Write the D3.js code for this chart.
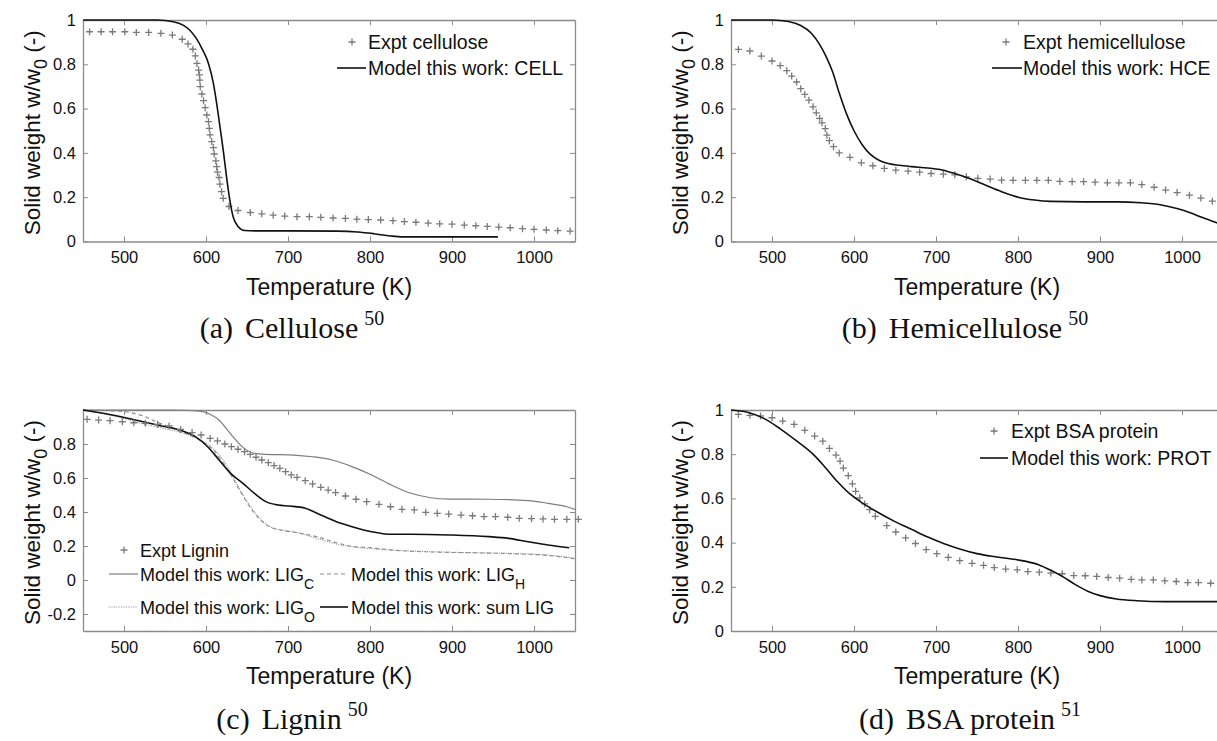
<!DOCTYPE html>
<html>
<head>
<meta charset="utf-8">
<script src="https://cdn.jsdelivr.net/npm/d3@7"></script>
<style>
  body { margin: 0; background: #fff; }
  svg { display: block; }
</style>
</head>
<body>
<svg id="fig"></svg>
<script>
// ---- values ----
const xTicks = [500, 600, 700, 800, 900, 1000];
const yTicksFull = [0, 0.2, 0.4, 0.6, 0.8, 1];
const yTicksLig = [-0.2, 0, 0.2, 0.4, 0.6, 0.8];

// (a) cellulose
const cellExptT = [458, 472, 486, 501, 515, 530, 545, 559, 571, 578, 584, 587, 589, 591, 592, 592.5, 593, 595, 597, 599, 601, 603, 604, 605, 607, 609, 610, 612, 613, 614, 616, 617, 619, 621, 628, 639, 654, 668, 682, 696, 711, 726, 740, 755, 770, 784, 798, 813, 828, 842, 856, 871, 885, 900, 915, 929, 943, 957, 971, 986, 1000, 1015, 1029, 1044];
const cellExptW = [0.947, 0.947, 0.947, 0.947, 0.944, 0.944, 0.94, 0.932, 0.913, 0.892, 0.868, 0.838, 0.804, 0.774, 0.752, 0.729, 0.699, 0.666, 0.636, 0.604, 0.571, 0.541, 0.511, 0.481, 0.451, 0.424, 0.395, 0.364, 0.338, 0.313, 0.289, 0.259, 0.225, 0.195, 0.158, 0.14, 0.131, 0.125, 0.119, 0.115, 0.112, 0.112, 0.109, 0.106, 0.104, 0.101, 0.099, 0.097, 0.094, 0.09, 0.087, 0.083, 0.08, 0.078, 0.074, 0.071, 0.068, 0.065, 0.062, 0.058, 0.055, 0.052, 0.049, 0.047];
const cellModelT = [450, 540, 560, 572, 580, 588, 596, 603, 609, 613, 617, 621, 625, 629, 633, 639, 647, 660, 700, 760, 785, 805, 825, 840, 956];
const cellModelW = [1, 1, 0.992, 0.977, 0.955, 0.918, 0.864, 0.804, 0.714, 0.624, 0.519, 0.413, 0.293, 0.188, 0.113, 0.068, 0.05, 0.048, 0.048, 0.047, 0.043, 0.035, 0.025, 0.021, 0.021];

// (b) hemicellulose
const hceExptT = [459, 473, 487, 500, 510, 518, 524, 530, 535, 540, 545, 550, 554, 558, 561, 565, 567, 570, 575, 582, 595, 609, 623, 637, 651, 666, 680, 694, 709, 723, 737, 751, 766, 780, 794, 809, 823, 837, 851, 866, 880, 894, 909, 923, 937, 951, 966, 980, 994, 1009, 1023, 1037];
const hceExptW = [0.867, 0.86, 0.837, 0.815, 0.794, 0.771, 0.747, 0.72, 0.69, 0.664, 0.638, 0.608, 0.581, 0.556, 0.536, 0.51, 0.48, 0.455, 0.428, 0.4, 0.38, 0.355, 0.342, 0.33, 0.322, 0.318, 0.313, 0.307, 0.304, 0.301, 0.292, 0.285, 0.282, 0.277, 0.276, 0.276, 0.276, 0.276, 0.271, 0.27, 0.27, 0.268, 0.265, 0.265, 0.265, 0.257, 0.245, 0.232, 0.221, 0.209, 0.196, 0.182];
const hceModelT = [450, 500, 520, 535, 548, 558, 566, 574, 582, 591, 600, 610, 620, 631, 643, 655, 670, 690, 705, 720, 740, 760, 780, 800, 820, 840, 880, 920, 950, 975, 995, 1010, 1025, 1040, 1050];
const hceModelW = [1, 1, 0.993, 0.975, 0.94, 0.89, 0.835, 0.765, 0.67, 0.575, 0.5, 0.437, 0.393, 0.366, 0.351, 0.344, 0.338, 0.332, 0.325, 0.31, 0.285, 0.255, 0.225, 0.2, 0.187, 0.181, 0.179, 0.179, 0.175, 0.165, 0.148, 0.13, 0.108, 0.088, 0.075];

// (c) lignin
const ligExptT = [455, 469, 483, 498, 512, 526, 541, 555, 569, 583, 594, 605, 614, 623, 631, 639, 647, 654, 661, 668, 676, 683, 690, 697, 704, 711, 721, 730, 740, 749, 758, 770, 783, 796, 811, 825, 839, 854, 868, 882, 896, 911, 925, 939, 953, 968, 982, 997, 1011, 1025, 1040, 1054];
const ligExptW = [0.945, 0.941, 0.937, 0.931, 0.925, 0.922, 0.916, 0.906, 0.886, 0.867, 0.853, 0.833, 0.818, 0.8, 0.784, 0.769, 0.755, 0.739, 0.722, 0.706, 0.69, 0.673, 0.657, 0.637, 0.618, 0.604, 0.584, 0.565, 0.545, 0.529, 0.514, 0.494, 0.475, 0.461, 0.445, 0.431, 0.416, 0.412, 0.398, 0.392, 0.388, 0.382, 0.378, 0.373, 0.373, 0.369, 0.363, 0.361, 0.359, 0.357, 0.357, 0.357];
const ligCT = [450, 560, 590, 605, 616, 630, 645, 659, 673, 707, 730, 754, 778, 802, 826, 850, 874, 897, 945, 993, 1017, 1040, 1050];
const ligCW = [1, 1, 0.995, 0.975, 0.94, 0.86, 0.78, 0.745, 0.739, 0.735, 0.725, 0.706, 0.667, 0.618, 0.559, 0.51, 0.484, 0.476, 0.475, 0.467, 0.451, 0.431, 0.415];
const ligHT = [450, 500, 520, 540, 565, 590, 610, 625, 642, 658, 675, 695, 715, 735, 755, 775, 800, 830, 875, 925, 970, 1015, 1050];
const ligHW = [1, 0.99, 0.97, 0.93, 0.88, 0.83, 0.76, 0.66, 0.52, 0.4, 0.32, 0.29, 0.275, 0.255, 0.225, 0.2, 0.19, 0.175, 0.165, 0.16, 0.155, 0.145, 0.125];
const ligOT = [450, 492, 530, 554, 573, 592, 606, 621, 635, 649, 664, 678, 692, 707, 721, 735, 749, 764, 778, 826, 873, 921, 969, 1017, 1050];
const ligOW = [1, 0.96, 0.91, 0.886, 0.863, 0.824, 0.784, 0.706, 0.588, 0.47, 0.373, 0.314, 0.294, 0.284, 0.265, 0.245, 0.225, 0.206, 0.196, 0.176, 0.167, 0.161, 0.157, 0.147, 0.128];
const ligSumT = [450, 492, 540, 568, 587, 602, 616, 630, 645, 659, 673, 688, 702, 721, 740, 759, 778, 802, 826, 850, 897, 945, 969, 993, 1017, 1043];
const ligSumW = [1, 0.965, 0.912, 0.882, 0.843, 0.784, 0.706, 0.627, 0.569, 0.51, 0.461, 0.441, 0.435, 0.422, 0.382, 0.343, 0.314, 0.284, 0.269, 0.269, 0.265, 0.255, 0.245, 0.225, 0.206, 0.19];

// (d) BSA protein
const protExptT = [459, 473, 486, 500, 513, 527, 540, 552, 562, 570, 578, 583, 587, 593, 598, 602, 607, 613, 619, 626, 640, 651, 663, 675, 688, 701, 715, 729, 744, 758, 771, 785, 799, 812, 826, 840, 854, 868, 882, 896, 910, 924, 938, 951, 965, 979, 993, 1007, 1020, 1035];
const protExptW = [0.98, 0.976, 0.973, 0.965, 0.95, 0.935, 0.908, 0.882, 0.859, 0.826, 0.796, 0.769, 0.737, 0.703, 0.666, 0.632, 0.602, 0.575, 0.549, 0.519, 0.477, 0.448, 0.421, 0.396, 0.368, 0.35, 0.333, 0.318, 0.306, 0.297, 0.287, 0.28, 0.277, 0.269, 0.266, 0.262, 0.259, 0.251, 0.25, 0.247, 0.242, 0.239, 0.234, 0.231, 0.231, 0.227, 0.224, 0.219, 0.219, 0.216];
const protModelT = [450, 470, 490, 510, 530, 550, 565, 580, 595, 610, 630, 650, 670, 690, 710, 730, 750, 770, 790, 810, 825, 840, 855, 870, 885, 900, 920, 945, 980, 1050];
const protModelW = [1, 0.99, 0.962, 0.915, 0.86, 0.8, 0.74, 0.675, 0.62, 0.58, 0.535, 0.495, 0.46, 0.425, 0.395, 0.37, 0.35, 0.337, 0.327, 0.315, 0.3, 0.275, 0.245, 0.21, 0.18, 0.16, 0.145, 0.137, 0.133, 0.133];

// ---- drawing ----
const W = 1217, H = 741;
const SANS = '"Liberation Sans", Arial, Helvetica, sans-serif';
const SERIF = '"Liberation Serif", "Times New Roman", serif';
const AXIS_COL = '#8a8a8a';
const MARK_COL = '#7a7a7a';

const svg = d3.select('#fig').attr('width', W).attr('height', H)
  .attr('font-family', SANS);

function crosses(g, x, y, T, Wt) {
  g.selectAll(null).data(d3.zip(T, Wt)).enter().append('path')
    .attr('d', d => `M${x(d[0]) - 3.5},${y(d[1])}h7M${x(d[0])},${y(d[1]) - 3.5}v7`)
    .attr('stroke', MARK_COL).attr('stroke-width', 1.3).attr('fill', 'none');
}

function curve(g, x, y, T, Wt, col, width, dash) {
  g.append('path')
    .attr('d', d3.line().x(d => x(d[0])).y(d => y(d[1])).curve(d3.curveMonotoneX)(d3.zip(T, Wt)))
    .attr('fill', 'none').attr('stroke', col).attr('stroke-width', width)
    .attr('stroke-dasharray', dash || null);
}

function drawPanel(p) {
  const x = d3.scaleLinear().domain([450, 1050]).range([p.left, p.left + 492]);
  const y = d3.scaleLinear().domain(p.yDomain).range([p.bottom, p.top]);
  const g = svg.append('g');
  const fmt = d => d3.format('~g')(d).replace('\u2212', '-');

  const ax = [
    g.append('g').attr('transform', `translate(0,${p.bottom})`)
      .call(d3.axisBottom(x).tickValues(xTicks).tickSizeInner(-5).tickSizeOuter(0).tickPadding(10).tickFormat(d3.format('d'))),
    g.append('g').attr('transform', `translate(0,${p.top})`)
      .call(d3.axisTop(x).tickValues(xTicks).tickSizeInner(-5).tickSizeOuter(0).tickFormat('')),
    g.append('g').attr('transform', `translate(${p.left},0)`)
      .call(d3.axisLeft(y).tickValues(p.yTicks).tickSizeInner(-5).tickSizeOuter(0).tickPadding(7).tickFormat(fmt)),
    g.append('g').attr('transform', `translate(${p.left + 492},0)`)
      .call(d3.axisRight(y).tickValues(p.yTicks).tickSizeInner(-5).tickSizeOuter(0).tickFormat(''))
  ];
  ax.forEach(a => {
    a.select('.domain').attr('stroke', AXIS_COL).attr('stroke-width', 1.3);
    a.selectAll('.tick line').attr('stroke', AXIS_COL).attr('stroke-width', 1);
    a.selectAll('.tick text').attr('fill', '#111').attr('font-size', 16.5).attr('font-family', SANS);
  });

  // axis titles
  const cx = p.left + 246;
  g.append('text').attr('x', cx).attr('y', p.bottom + 53)
    .attr('text-anchor', 'middle').attr('font-size', 23).attr('fill', '#111')
    .text('Temperature (K)');
  const yt = g.append('text')
    .attr('transform', `translate(${p.left - 43},${(p.top + p.bottom) / 2 + 2}) rotate(-90)`)
    .attr('text-anchor', 'middle').attr('font-size', 22.5).attr('fill', '#111');
  yt.append('tspan').text('Solid weight w/w');
  yt.append('tspan').attr('dy', 7).attr('font-size', 18).text('0');
  yt.append('tspan').attr('dy', -7).text(' (-)');

  // series
  p.series.forEach(s => {
    if (s.type === 'cross') crosses(g, x, y, s.T, s.W);
    else curve(g, x, y, s.T, s.W, s.color, s.width, s.dash);
  });

  // legend
  p.legend.forEach(e => {
    const t = g.append('text').attr('x', e.tx).attr('y', e.y + 7)
      .attr('font-size', p.legendSize).attr('fill', '#111');
    t.append('tspan').text(e.label);
    if (e.sub) t.append('tspan').attr('dy', 8).attr('font-size', p.legendSize * 0.78).text(e.sub);
    if (e.type === 'cross') {
      g.append('path')
        .attr('d', `M${e.mx - 3.5},${e.y}h7M${e.mx},${e.y - 3.5}v7`)
        .attr('stroke', MARK_COL).attr('stroke-width', 1.3);
    } else {
      g.append('line').attr('x1', e.lx0).attr('x2', e.lx1).attr('y1', e.y).attr('y2', e.y)
        .attr('stroke', e.color).attr('stroke-width', e.width)
        .attr('stroke-dasharray', e.dash || null);
    }
  });

  // caption
  const cap = g.append('text').attr('x', p.capX).attr('y', p.capY)
    .attr('text-anchor', 'middle').attr('font-family', SERIF).attr('font-size', 30).attr('fill', '#111');
  cap.append('tspan').text(p.capTag);
  cap.append('tspan').attr('dx', 12).text(p.capName);
  cap.append('tspan').attr('dx', 6).attr('dy', -13).attr('font-size', 20).text(p.capRef);
}

const blackModel = { color: '#111', width: 1.6 };

drawPanel({
  left: 83, top: 20, bottom: 241.5, yDomain: [0, 1], yTicks: yTicksFull,
  series: [
    { type: 'cross', T: cellExptT, W: cellExptW },
    Object.assign({ T: cellModelT, W: cellModelW }, blackModel)
  ],
  legendSize: 19.5,
  legend: [
    { type: 'cross', label: 'Expt cellulose', mx: 352, tx: 368, y: 42 },
    Object.assign({ label: 'Model this work: CELL', lx0: 337, lx1: 366, tx: 368, y: 68 }, blackModel)
  ],
  capTag: '(a)', capName: 'Cellulose', capRef: '50', capX: 292, capY: 338
});

drawPanel({
  left: 731, top: 20, bottom: 241.5, yDomain: [0, 1], yTicks: yTicksFull,
  series: [
    { type: 'cross', T: hceExptT, W: hceExptW },
    Object.assign({ T: hceModelT, W: hceModelW }, blackModel)
  ],
  legendSize: 19.5,
  legend: [
    { type: 'cross', label: 'Expt hemicellulose', mx: 1006, tx: 1023, y: 42 },
    Object.assign({ label: 'Model this work: HCE', lx0: 992, lx1: 1022, tx: 1023, y: 68 }, blackModel)
  ],
  capTag: '(b)', capName: 'Hemicellulose', capRef: '50', capX: 965, capY: 338
});

drawPanel({
  left: 83, top: 410, bottom: 631, yDomain: [-0.3, 1], yTicks: yTicksLig,
  series: [
    { T: ligCT, W: ligCW, color: '#7d7d7d', width: 1.2 },
    { T: ligHT, W: ligHW, color: '#8a8a8a', width: 1.1, dash: '4,3' },
    { T: ligOT, W: ligOW, color: '#9a9a9a', width: 1.1, dash: '1.2,1.2' },
    Object.assign({ T: ligSumT, W: ligSumW }, blackModel),
    { type: 'cross', T: ligExptT, W: ligExptW }
  ],
  legendSize: 18,
  legend: [
    { type: 'cross', label: 'Expt Lignin', mx: 124, tx: 140, y: 550 },
    { label: 'Model this work: LIG', sub: 'C', lx0: 109, lx1: 138, tx: 140, y: 574, color: '#7d7d7d', width: 1.2 },
    { label: 'Model this work: LIG', sub: 'H', lx0: 320, lx1: 348, tx: 351, y: 574, color: '#8a8a8a', width: 1.1, dash: '4,3' },
    { label: 'Model this work: LIG', sub: 'O', lx0: 109, lx1: 138, tx: 140, y: 607, color: '#9a9a9a', width: 1.1, dash: '1.2,1.2' },
    Object.assign({ label: 'Model this work: sum LIG', lx0: 320, lx1: 348, tx: 351, y: 607 }, blackModel)
  ],
  capTag: '(c)', capName: 'Lignin', capRef: '50', capX: 292, capY: 729
});

drawPanel({
  left: 731, top: 410, bottom: 631, yDomain: [0, 1], yTicks: yTicksFull,
  series: [
    { type: 'cross', T: protExptT, W: protExptW },
    Object.assign({ T: protModelT, W: protModelW }, blackModel)
  ],
  legendSize: 19.5,
  legend: [
    { type: 'cross', label: 'Expt BSA protein', mx: 994, tx: 1011, y: 431 },
    Object.assign({ label: 'Model this work: PROT', lx0: 980, lx1: 1008, tx: 1011, y: 458 }, blackModel)
  ],
  capTag: '(d)', capName: 'BSA protein', capRef: '51', capX: 970, capY: 729
});
</script>
</body>
</html>
